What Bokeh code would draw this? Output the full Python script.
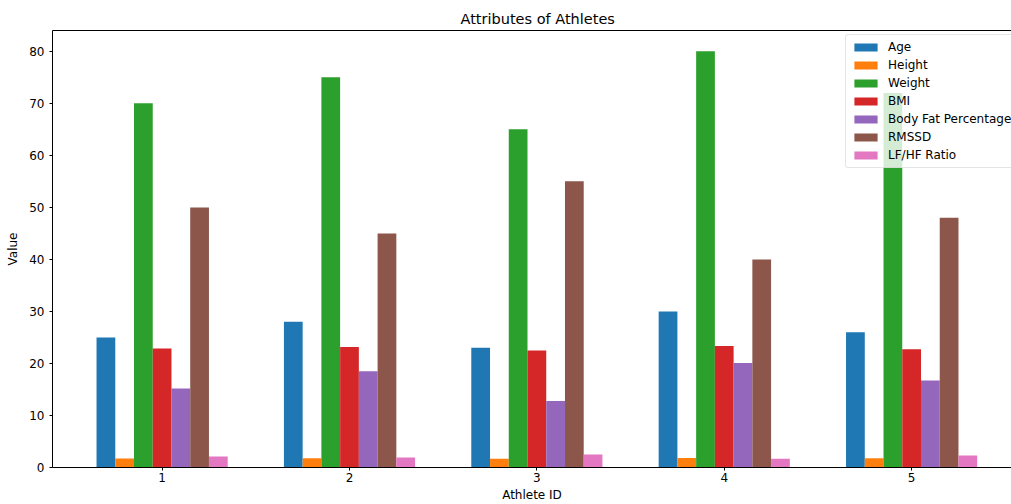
from bokeh.plotting import figure
from bokeh.models import ColumnDataSource, FixedTicker, LinearAxis, Legend, LegendItem, Range1d
from bokeh.transform import dodge
from bokeh.embed import file_html
from bokeh.resources import INLINE

athlete_ids = [1, 2, 3, 4, 5]
age = [25, 28, 23, 30, 26]
height = [1.75, 1.80, 1.70, 1.85, 1.78]
weight = [70, 75, 65, 80, 72]
bmi = [22.86, 23.15, 22.49, 23.37, 22.72]
body_fat = [15.2, 18.5, 12.8, 20.1, 16.7]
rmssd = [50, 45, 55, 40, 48]
lf_hf = [2.1, 1.9, 2.5, 1.7, 2.3]

series_names = ["Age", "Height", "Weight", "BMI", "Body Fat Percentage", "RMSSD", "LF/HF Ratio"]
series_keys = ["age", "height", "weight", "bmi", "body_fat", "rmssd", "lf_hf"]
colors = ["#1f77b4", "#ff7f0e", "#2ca02c", "#d62728", "#9467bd", "#8c564b", "#e377c2"]
y_ticks = [0, 10, 20, 30, 40, 50, 60, 70, 80]

source = ColumnDataSource(dict(
    id=athlete_ids, age=age, height=height, weight=weight, bmi=bmi,
    body_fat=body_fat, rmssd=rmssd, lf_hf=lf_hf,
))

bar_w = 0.1
n = len(series_keys)
y_max = max(max(weight), max(rmssd), max(age)) * 1.05

FONT = "DejaVu Sans"

p = figure(
    width=1011, height=504,
    x_range=Range1d(0.415, 5.533), y_range=Range1d(0, y_max),
    output_backend="svg", toolbar_location=None,
    min_border_left=52, min_border_right=0, min_border_top=30, min_border_bottom=37,
    title="Attributes of Athletes",
)
p.title.text_font = FONT
p.title.text_font_size = "14.5px"
p.title.text_font_style = "normal"
p.title.align = "left"
p.title.offset = 408
p.title.text_color = "#000000"
p.title.standoff = 8

p.outline_line_color = None
p.xgrid.visible = False
p.ygrid.visible = False
p.background_fill_color = "white"
p.border_fill_color = "white"

renderers = []
for i, (key, name, c) in enumerate(zip(series_keys, series_names, colors)):
    off = (i - (n - 1) / 2) * bar_w
    r = p.vbar(x=dodge("id", off, range=p.x_range), top=key, width=bar_w, bottom=0,
               source=source, fill_color=c, line_color=None)
    renderers.append((name, r))

for ax in (p.xaxis[0], p.yaxis[0]):
    ax.axis_line_color = "#000000"
    ax.axis_line_width = 1
    ax.major_tick_line_color = "#000000"
    ax.major_tick_in = 0
    ax.major_tick_out = 3
    ax.minor_tick_line_color = None
    ax.major_label_text_font = FONT
    ax.major_label_text_font_size = "12px"
    ax.major_label_text_color = "#000000"
    ax.axis_label_text_font = FONT
    ax.axis_label_text_font_size = "12px"
    ax.axis_label_text_font_style = "normal"
    ax.axis_label_text_color = "#000000"

p.xaxis.ticker = FixedTicker(ticks=athlete_ids)
p.xaxis.axis_label = "Athlete ID"
p.xaxis.major_label_standoff = 2
p.xaxis.axis_label_standoff = 3

p.yaxis.ticker = FixedTicker(ticks=y_ticks)
p.yaxis.axis_label = "Value"
p.yaxis.major_label_standoff = 5
p.yaxis.axis_label_standoff = 6

top_axis = LinearAxis(ticker=FixedTicker(ticks=[]), axis_line_color="#000000",
                      major_tick_out=0, major_tick_in=0, minor_tick_out=0, minor_tick_in=0,
                      major_label_text_font_size="0px", axis_label=None)
p.add_layout(top_axis, "above")

legend = Legend(
    items=[LegendItem(label=name, renderers=[r]) for name, r in renderers],
    location=(793, 299),
    label_text_font=FONT, label_text_font_size="12px", label_text_color="#000000",
    glyph_width=29, glyph_height=10, label_height=10, spacing=4,
    label_standoff=8, padding=5, margin=0,
    border_line_color="#cccccc", border_line_width=1, border_radius=3,
    background_fill_color="white", background_fill_alpha=0.8,
)
p.add_layout(legend, "center")

open("out.html", "w").write(file_html(p, INLINE))
